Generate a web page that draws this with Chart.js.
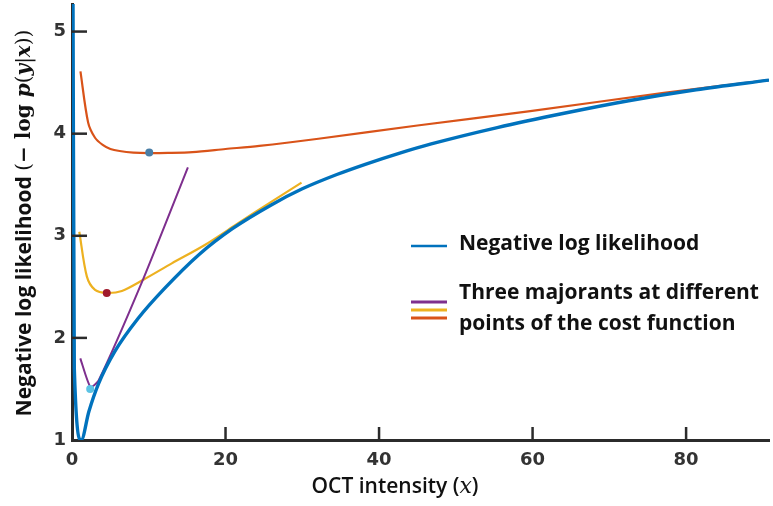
<!DOCTYPE html>
<html lang="en">
<head>
  <meta charset="UTF-8" />
  <title>Negative log likelihood and majorants</title>
  <style>
    html, body { margin: 0; padding: 0; background: #fff; }
    #wrap { width: 773px; height: 506px; }
  </style>
</head>
<body>
  <div id="wrap"><canvas id="nllChart" width="773" height="506"></canvas></div>

<script src="https://cdn.jsdelivr.net/npm/chart.js"></script>
<script>
// DATA
const xTicks = [0, 20, 40, 60, 80];
const yTicks = [1, 2, 3, 4, 5];

const nllX = [0.12, 0.3, 1.2, 2.2, 3.45, 5.6, 8.6, 12.0, 16.6, 20.9, 25.9, 30.0, 34.5, 38.2, 42.7, 46.8, 55.4, 64.1, 72.7, 81.3, 90.8];
const nllY = [5.6, 1.7, 1.0, 1.28, 1.55, 1.87, 2.19, 2.48, 2.82, 3.07, 3.30, 3.46, 3.60, 3.70, 3.81, 3.90, 4.06, 4.20, 4.325, 4.43, 4.525];

const purpleX = [1.08, 2.4, 3.45, 9.3, 15.1];
const purpleY = [1.80, 1.52, 1.58, 2.58, 3.67];

const yellowX = [0.95, 1.94, 3.0, 4.53, 6.5, 9.3, 13.0, 17.3, 21.6, 25.9, 29.9];
const yellowY = [3.04, 2.60, 2.47, 2.44, 2.46, 2.57, 2.73, 2.91, 3.12, 3.33, 3.52];

const orangeX = [1.1, 2.1, 3.0, 4.0, 5.0, 6.2, 8.0, 10.0, 12.5, 15.7, 20.0, 24.4, 32.1, 45.0, 59.7, 77.1, 90.8];
const orangeY = [4.61, 4.11, 3.96, 3.89, 3.85, 3.83, 3.815, 3.81, 3.812, 3.82, 3.85, 3.88, 3.95, 4.08, 4.22, 4.40, 4.525];

const dotX = [2.37, 4.53, 10.06];
const dotY = [1.50, 2.44, 3.815];
const dotColors = ["#5cc3e4", "#a01a2c", "#4a7ea6"];

const BLUE = "#0072bd", PURPLE = "#7e2f8e", YELLOW = "#edb120", ORANGE = "#d95319";

const toPts = (xs, ys) => xs.map((x, i) => ({ x, y: ys[i] }));

// tick marks drawn inside the plot, titles and legend with mixed fonts
const decorPlugin = {
  id: "decor",
  afterDatasetsDraw(chart) {
    const ctx = chart.ctx;
    const xs = chart.scales.x, ys = chart.scales.y;
    const area = chart.chartArea;
    ctx.save();
    ctx.strokeStyle = "#2b2b2b";
    ctx.lineWidth = 2.5;
    xTicks.slice(1).forEach(v => {
      const px = xs.getPixelForValue(v);
      ctx.beginPath(); ctx.moveTo(px, area.bottom); ctx.lineTo(px, area.bottom - 13); ctx.stroke();
    });
    yTicks.slice(1).forEach(v => {
      const py = ys.getPixelForValue(v);
      ctx.beginPath(); ctx.moveTo(area.left, py); ctx.lineTo(area.left + 15, py); ctx.stroke();
    });
    ctx.restore();
  },
  afterDraw(chart) {
    const ctx = chart.ctx;
    const drawRuns = (runs, cx, cy) => {
      let total = 0;
      runs.forEach(r => { ctx.font = r.font; total += ctx.measureText(r.t).width; });
      let x = cx - total / 2;
      runs.forEach(r => {
        ctx.font = r.font;
        ctx.fillText(r.t, x, cy);
        x += ctx.measureText(r.t).width;
      });
    };
    ctx.save();
    ctx.fillStyle = "#111";
    ctx.textBaseline = "middle";
    ctx.textAlign = "left";

    // x title
    drawRuns([
      { t: "OCT intensity (", font: "600 21px 'Open Sans'" },
      { t: "x", font: "italic 22px 'DejaVu Serif'" },
      { t: ")", font: "600 21px 'Open Sans'" }
    ], 395, 487);

    // y title (rotated)
    ctx.save();
    ctx.translate(25, 223);
    ctx.rotate(-Math.PI / 2);
    drawRuns([
      { t: "Negative log likelihood ", font: "bold 21px 'Open Sans'" },
      { t: "(", font: "20px 'DejaVu Serif'" },
      { t: "\u2212 log ", font: "bold 20px 'DejaVu Serif'" },
      { t: "p", font: "bold italic 20px 'DejaVu Serif'" },
      { t: "(", font: "20px 'DejaVu Serif'" },
      { t: "y", font: "bold italic 20px 'DejaVu Serif'" },
      { t: "|", font: "20px 'DejaVu Serif'" },
      { t: "x", font: "bold italic 20px 'DejaVu Serif'" },
      { t: "))", font: "20px 'DejaVu Serif'" }
    ], 0, 0);
    ctx.restore();

    // legend
    ctx.lineCap = "butt";
    const seg = (color, y, w) => {
      ctx.strokeStyle = color; ctx.lineWidth = w;
      ctx.beginPath(); ctx.moveTo(411, y); ctx.lineTo(447, y); ctx.stroke();
    };
    seg(BLUE, 246, 2.5);
    seg(PURPLE, 302, 3);
    seg(YELLOW, 310, 3);
    seg(ORANGE, 318, 3);
    ctx.font = "bold 21px 'Open Sans'";
    ctx.fillText("Negative log likelihood", 459, 244);
    ctx.fillText("Three majorants at different", 459, 293);
    ctx.fillText("points of the cost function", 459, 324);
    ctx.restore();
  }
};

const ctx = document.getElementById("nllChart").getContext("2d");
new Chart(ctx, {
  type: "line",
  data: {
    datasets: [
      { label: "Negative log likelihood", data: toPts(nllX, nllY), borderColor: BLUE, borderWidth: 3.4, pointRadius: 0, cubicInterpolationMode: "monotone", order: 1 },
      { label: "Majorant 1", data: toPts(purpleX, purpleY), borderColor: PURPLE, borderWidth: 2, pointRadius: 0, tension: 0.2, order: 2 },
      { label: "Majorant 2", data: toPts(yellowX, yellowY), borderColor: YELLOW, borderWidth: 2.2, pointRadius: 0, tension: 0.3, order: 2 },
      { label: "Majorant 3", data: toPts(orangeX, orangeY), borderColor: ORANGE, borderWidth: 2.2, pointRadius: 0, tension: 0.3, order: 2 },
      { type: "scatter", label: "Points", data: toPts(dotX, dotY), pointBackgroundColor: dotColors, pointBorderWidth: 0, pointRadius: 4, order: 0 }
    ]
  },
  options: {
    responsive: false,
    animation: false,
    layout: { padding: 0 },
    plugins: { legend: { display: false }, tooltip: { enabled: false } },
    scales: {
      x: {
        type: "linear", min: 0, max: 90.8,
        afterBuildTicks: s => { s.ticks = xTicks.map(v => ({ value: v })); },
        afterFit: s => { s.height = 66; s.paddingLeft = 0; s.paddingRight = 0; },
        grid: { display: false, drawTicks: false },
        border: { display: true, color: "#2b2b2b", width: 3 },
        ticks: { padding: 10, color: "#333", font: { family: "'DejaVu Sans'", weight: "bold", size: 18 } }
      },
      y: {
        type: "linear", min: 1, max: 5.27,
        afterBuildTicks: s => { s.ticks = yTicks.map(v => ({ value: v })); },
        afterFit: s => { s.width = 72; s.paddingTop = 0; s.paddingBottom = 0; },
        grid: { display: false, drawTicks: false },
        border: { display: true, color: "#2b2b2b", width: 3 },
        ticks: { padding: 6, color: "#333", font: { family: "'DejaVu Sans'", weight: "bold", size: 18 } }
      }
    }
  },
  plugins: [decorPlugin]
});
</script>
</body>
</html>
